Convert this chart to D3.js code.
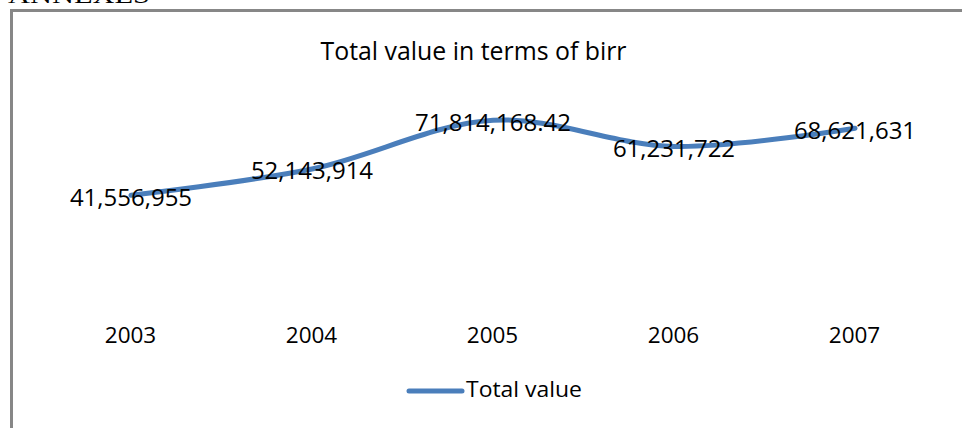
<!DOCTYPE html>
<html>
<head>
<meta charset="utf-8">
<script src="https://cdn.jsdelivr.net/npm/d3@7"></script>
<style>
  html, body { margin: 0; padding: 0; background: #fff; }
  svg { display: block; }
</style>
</head>
<body>
<svg id="chart" width="962" height="428"></svg>
<script>
// ---- data ----
const years = ["2003", "2004", "2005", "2006", "2007"];
const totalValues = [41556955, 52143914, 71814168.42, 61231722, 68621631];
const seriesName = "Total value";
const chartTitle = "Total value in terms of birr";
const headingText = "ANNEXES";
const yDomain = [0, 80000000];

// ---- layout ----
const svg = d3.select("#chart");
const font = "'Open Sans', 'Noto Sans', sans-serif";
const blue = "#4a7ebb";

// heading above the chart frame (cut off at the top, as in the source page)
svg.append("text")
  .attr("x", 8).attr("y", 3)
  .attr("font-family", "'Liberation Serif', 'DejaVu Serif', serif")
  .attr("font-size", 24)
  .attr("textLength", 142).attr("lengthAdjust", "spacingAndGlyphs")
  .attr("fill", "#000")
  .text(headingText);

// chart frame (continues beyond the picture on right and bottom)
svg.append("rect")
  .attr("x", 11.5).attr("y", 10.5)
  .attr("width", 1000).attr("height", 500)
  .attr("fill", "none")
  .attr("stroke", "#878787")
  .attr("stroke-width", 3);

// title
svg.append("text")
  .attr("x", 473.5).attr("y", 60)
  .attr("text-anchor", "middle")
  .attr("font-family", font)
  .attr("font-size", 25)
  .attr("textLength", 306).attr("lengthAdjust", "spacingAndGlyphs")
  .attr("fill", "#000")
  .text(chartTitle);

// scales
const x = d3.scalePoint().domain(years).range([40.5, 945.5]).padding(0.5);
const y = d3.scaleLinear().domain(yDomain).range([298, 100]);

// x axis labels (no axis line, no ticks)
const xAxis = svg.append("g")
  .attr("transform", "translate(-1,322)")
  .call(d3.axisBottom(x).tickSize(0).tickPadding(0));
xAxis.select(".domain").remove();
xAxis.selectAll("text")
  .attr("font-family", font)
  .attr("font-size", 22.5)
  .attr("fill", "#000")
  .attr("dy", "0.95em");

// line
const data = years.map((yr, i) => ({ year: yr, value: totalValues[i] }));
const line = d3.line()
  .x(d => x(d.year))
  .y(d => y(d.value))
  .curve(d3.curveCatmullRom.alpha(0.5));

svg.append("path")
  .datum(data)
  .attr("d", line)
  .attr("fill", "none")
  .attr("stroke", blue)
  .attr("stroke-width", 5)
  .attr("stroke-linecap", "round")
  .attr("stroke-linejoin", "round");

// data labels centred on points
const fmt = d3.format(",");
svg.append("g").selectAll("text")
  .data(data)
  .join("text")
  .attr("x", d => x(d.year))
  .attr("y", d => y(d.value) + 2)
  .attr("dy", "0.35em")
  .attr("text-anchor", "middle")
  .attr("font-family", font)
  .attr("font-size", 24)
  .attr("fill", "#000")
  .text(d => fmt(d.value));

// legend
const lg = svg.append("g");
lg.append("line")
  .attr("x1", 409).attr("x2", 462)
  .attr("y1", 391).attr("y2", 391)
  .attr("stroke", blue).attr("stroke-width", 5)
  .attr("stroke-linecap", "round");
lg.append("text")
  .attr("x", 466).attr("y", 397)
  .attr("font-family", font)
  .attr("font-size", 22)
  .attr("textLength", 116).attr("lengthAdjust", "spacingAndGlyphs")
  .attr("fill", "#000")
  .text(seriesName);
</script>
</body>
</html>
